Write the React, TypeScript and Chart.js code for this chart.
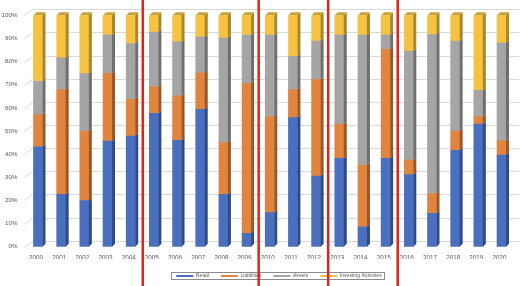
import React, { useEffect, useRef } from 'react';
import { Chart, registerables } from 'chart.js';

Chart.register(...registerables);

const years = ['2000', '2001', '2002', '2003', '2004', '2005', '2006', '2007', '2008', '2009', '2010',
  '2011', '2012', '2013', '2014', '2015', '2016', '2017', '2018', '2019', '2020'];
const retail = [43.2, 22.6, 19.9, 45.6, 47.8, 57.6, 46.0, 59.4, 22.6, 5.8, 14.7, 55.8, 30.5, 38.2, 8.6, 38.2, 31.2, 14.4, 41.7, 53.0, 39.6];
const liabilities = [13.9, 45.3, 30.0, 29.2, 15.9, 11.5, 19.2, 15.7, 22.4, 64.7, 41.4, 12.1, 41.7, 14.8, 26.7, 47.1, 6.2, 8.6, 8.3, 3.1, 6.0];
const assets = [14.4, 13.7, 24.9, 16.6, 24.1, 23.7, 23.3, 15.5, 45.2, 20.9, 35.3, 14.4, 16.7, 38.4, 56.1, 6.1, 47.1, 68.7, 38.9, 11.5, 42.4];
const investing = [28.5, 18.4, 25.2, 8.6, 12.2, 7.2, 11.5, 9.4, 9.8, 8.6, 8.6, 17.7, 11.1, 8.6, 8.6, 8.6, 15.5, 8.3, 11.1, 32.4, 12.0];
const seriesNames = ['Retail', 'Liabilities', 'Assets', 'Investing Activities'];
const breakAfter = ['2004', '2009', '2012', '2015'];

const FONT = "'Liberation Sans', Arial, sans-serif";
const FRONT = ['#4A6FBE', '#E0843F', '#A5A5A5', '#F6C241'];
const SIDE = ['#2F4A85', '#9C5726', '#6F6F6F', '#A9862A'];
const TOPC = '#C9A235';
const DX = 3;
const DY = 3;

const threeD = {
  id: 'threeD',
  afterLayout(chart: any) {
    const lg = chart.legend;
    if (!lg) return;
    const shift = 279 - (lg.left + lg.right) / 2;
    lg.left += shift;
    lg.right += shift;
    const pad = lg.options.labels.padding;
    const fs = lg.options.labels.font.size;
    const newTop = 276 - pad - fs / 2;
    lg.top = newTop;
    lg.bottom = newTop + lg.height;
  },
  beforeDatasetsDraw(chart: any) {
    const { ctx, chartArea } = chart;
    const y = chart.scales.y;
    ctx.save();
    ctx.strokeStyle = '#D9D9D9';
    ctx.lineWidth = 1;
    y.ticks.forEach((t: any) => {
      const py = Math.round(y.getPixelForValue(t.value)) + 0.5;
      ctx.beginPath();
      ctx.moveTo(chartArea.left - 2, py);
      ctx.lineTo(chartArea.left + 6, py - 6);
      ctx.lineTo(chartArea.right + 6, py - 6);
      ctx.stroke();
    });
    ctx.restore();
  },
  afterDatasetsDraw(chart: any) {
    const { ctx } = chart;
    const n = chart.data.datasets.length;
    ctx.save();
    chart.data.datasets.forEach((_ds: any, i: number) => {
      const meta = chart.getDatasetMeta(i);
      meta.data.forEach((bar: any) => {
        const { x, y, base, width } = bar.getProps(['x', 'y', 'base', 'width'], true);
        const l = x - width / 2;
        const r = x + width / 2;
        ctx.fillStyle = SIDE[i];
        ctx.beginPath();
        ctx.moveTo(r, y);
        ctx.lineTo(r + DX, y - DY);
        ctx.lineTo(r + DX, base - DY);
        ctx.lineTo(r, base);
        ctx.closePath();
        ctx.fill();
        if (i === n - 1) {
          ctx.fillStyle = TOPC;
          ctx.beginPath();
          ctx.moveTo(l, y);
          ctx.lineTo(l + DX, y - DY);
          ctx.lineTo(r + DX, y - DY);
          ctx.lineTo(r, y);
          ctx.closePath();
          ctx.fill();
        }
      });
    });
    ctx.restore();
  },
  afterDraw(chart: any) {
    const { ctx } = chart;
    const lg = chart.legend;
    ctx.save();
    if (lg && lg.legendHitBoxes && lg.legendHitBoxes.length) {
      const hb = lg.legendHitBoxes;
      const first = hb[0];
      const last = hb[hb.length - 1];
      const x0 = Math.round(first.left - 5) + 0.5;
      const x1 = Math.round(last.left + last.width + 2) + 0.5;
      ctx.strokeStyle = '#8C8C8C';
      ctx.lineWidth = 1;
      ctx.strokeRect(x0, 272.5, x1 - x0, 7);
    }
    const xs = chart.scales.x;
    ctx.strokeStyle = '#E2231A';
    ctx.lineWidth = 2.5;
    breakAfter.forEach((lab) => {
      const i = years.indexOf(lab);
      const px = (xs.getPixelForValue(i) + xs.getPixelForValue(i + 1)) / 2 + 0.5;
      ctx.beginPath();
      ctx.moveTo(px, 0);
      ctx.lineTo(px, chart.height);
      ctx.stroke();
    });
    ctx.restore();
  },
};

export default function App() {
  const ref = useRef<HTMLCanvasElement | null>(null);
  useEffect(() => {
    if (!ref.current) return;
    const values = [retail, liabilities, assets, investing];
    const chart = new Chart(ref.current, {
      type: 'bar',
      data: {
        labels: years,
        datasets: seriesNames.map((name, i) => ({
          label: name,
          data: values[i],
          backgroundColor: FRONT[i],
          borderWidth: 0,
          barThickness: 9,
        })),
      },
      options: {
        responsive: false,
        animation: false,
        layout: { padding: { top: 15.3, left: 0, right: 6.9, bottom: 0 } },
        plugins: {
          tooltip: { enabled: false },
          legend: {
            position: 'bottom',
            labels: {
              usePointStyle: true,
              pointStyleWidth: 17,
              padding: 12,
              color: '#595959',
              font: { size: 5.1, family: FONT },
              generateLabels: (c: any) =>
                (Chart.defaults.plugins.legend.labels.generateLabels as any)(c).map((it: any) => ({
                  ...it,
                  pointStyle: 'line',
                  strokeStyle: it.fillStyle,
                  lineWidth: 2,
                })),
            },
          },
        },
        scales: {
          x: {
            stacked: true,
            grid: { display: false, drawTicks: false },
            border: { display: false },
            ticks: {
              color: '#595959',
              font: { size: 6.3, family: FONT },
              padding: 8,
              labelOffset: -2,
              maxRotation: 0,
              autoSkip: false,
            },
            afterFit: (s: any) => { s.height = 12.2; },
          },
          y: {
            stacked: true,
            min: 0,
            max: 100,
            grid: { display: false, drawTicks: false },
            border: { display: false },
            ticks: {
              stepSize: 10,
              color: '#595959',
              font: { size: 6.2, family: FONT },
              padding: 9,
              callback: (v: any) => v + '%',
            },
            afterFit: (s: any) => { s.width = 26.4; },
          },
        },
      },
      plugins: [threeD],
    } as any);
    return () => chart.destroy();
  }, []);
  return (
    <div style={{ position: 'fixed', left: 0, top: 0, width: 520, height: 286, background: '#fff' }}>
      <canvas ref={ref} width={520} height={286} style={{ width: 520, height: 286, display: 'block' }} />
    </div>
  );
}
